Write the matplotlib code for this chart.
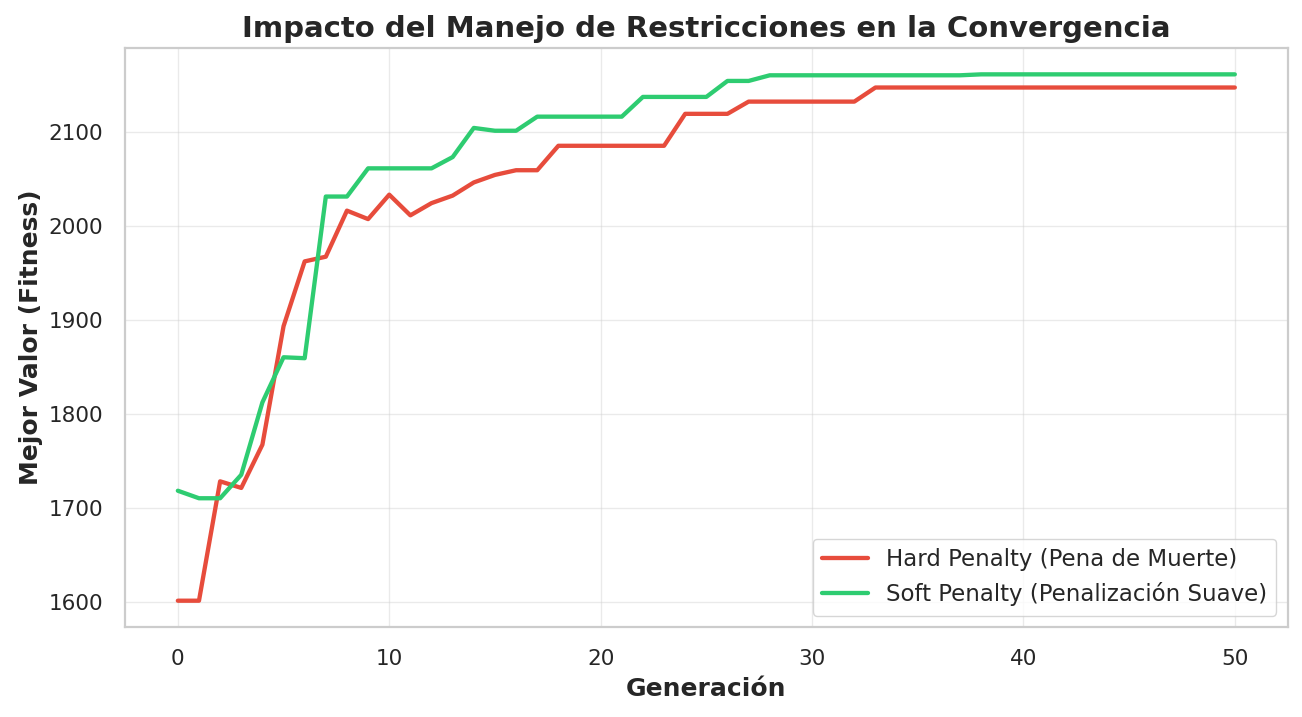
import matplotlib
matplotlib.use("Agg")
import matplotlib.pyplot as plt
import seaborn as sns
import numpy as np

generations = list(range(51))
hard_penalty = [1601, 1601, 1728, 1721, 1767, 1893, 1962, 1967, 2016, 2007,
                2033, 2011, 2024, 2032, 2046, 2054, 2059, 2059, 2085, 2085,
                2085, 2085, 2085, 2085, 2119, 2119, 2119, 2132, 2132, 2132,
                2132, 2132, 2132] + [2147] * 18
soft_penalty = [1718, 1710, 1710, 1735, 1812, 1860, 1859, 2031, 2031, 2061,
                2061, 2061, 2061, 2073, 2104, 2101, 2101, 2116, 2116, 2116,
                2116, 2116, 2137, 2137, 2137, 2137, 2154, 2154] + [2160] * 10 + [2161] * 13

labels = ["Hard Penalty (Pena de Muerte)", "Soft Penalty (Penalización Suave)"]
colors = ["#e74c3c", "#2ecc71"]

sns.set_theme(style="whitegrid")
plt.rcParams['font.family'] = ['DejaVu Sans']

fig, ax = plt.subplots(figsize=(13.02, 7.17), dpi=100)
fig.subplots_adjust(left=0.096, right=0.989, top=0.933, bottom=0.1255)

ax.plot(generations, hard_penalty, color=colors[0], linewidth=3.1, label=labels[0])
ax.plot(generations, soft_penalty, color=colors[1], linewidth=3.1, label=labels[1])

ax.set_title("Impacto del Manejo de Restricciones en la Convergencia",
             fontsize=21, fontweight="bold", color="#262626", pad=8)
ax.set_xlabel("Generación", fontsize=18, fontweight="bold", labelpad=6)
ax.set_ylabel("Mejor Valor (Fitness)", fontsize=18, fontweight="bold", labelpad=4)
ax.tick_params(labelsize=15.5, pad=9.5)
ax.grid(True, alpha=0.4)
ax.legend(loc="lower right", fontsize=16.5)

for s in ax.spines.values():
    s.set_color("#cccccc")
    s.set_linewidth(1.6)

plt.savefig("out.png", dpi=100)
